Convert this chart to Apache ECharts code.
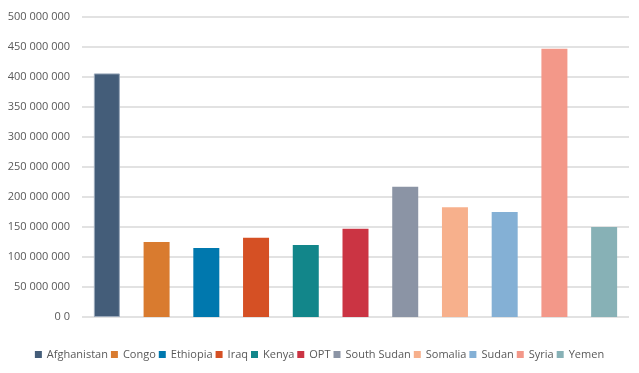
<!DOCTYPE html>
<html>
<head>
<meta charset="utf-8">
<script src="https://cdn.jsdelivr.net/npm/echarts@6/dist/echarts.min.js"></script>
<style>html,body{margin:0;padding:0;background:#fff}#c{width:639px;height:373px}</style>
</head>
<body>
<div id="c"></div>
<script>
var categories = ['Afghanistan','Congo','Ethiopia','Iraq','Kenya','OPT','South Sudan','Somalia','Sudan','Syria','Yemen'];
var values = [406000000,125000000,115000000,132000000,120000000,147000000,217000000,183000000,175000000,447000000,150000000];
var colors = ['#445D79','#D97B2F','#0078AE','#D55024','#12868A','#CB3443','#8B94A5','#F7B08C','#84B0D5','#F39889','#87B1B6'];
var yTicks = {min:0, max:500000000, interval:50000000};

function fmt(v){
  if (v === 0) return '0 0';
  return String(v).replace(/\B(?=(\d{3})+(?!\d))/g, ' ');
}

var series = categories.map(function(name, i){
  var d = categories.map(function(_, j){ return j === i ? values[i] : null; });
  return {
    name: name,
    type: 'bar',
    stack: 'all',
    barWidth: 26,
    data: d,
    itemStyle: i === 0 ? {color: colors[i], borderColor: '#9aa8ba', borderWidth: 1} : {color: colors[i]}
  };
});

var chart = echarts.init(document.getElementById('c'), null, {renderer:'canvas'});
chart.setOption({
  animation: false,
  textStyle: {fontFamily: 'Open Sans'},
  grid: {left: 82, right: 10, top: 17, bottom: 56, containLabel: false},
  legend: {
    bottom: 8,
    left: 'center',
    itemWidth: 7,
    itemHeight: 7,
    itemGap: 3,
    icon: 'rect',
    textStyle: {color: '#595959', fontSize: 11, fontFamily: 'Open Sans'},
    data: categories.map(function(n, i){ return {name: n, itemStyle: {color: colors[i], borderWidth: 0}}; })
  },
  xAxis: {
    type: 'category',
    data: categories,
    axisLine: {show: false},
    axisTick: {show: false},
    axisLabel: {show: false}
  },
  yAxis: {
    type: 'value',
    min: yTicks.min,
    max: yTicks.max,
    interval: yTicks.interval,
    axisLine: {show: false},
    axisTick: {show: false},
    splitLine: {lineStyle: {color: '#d9d9d9', width: 1.5}},
    axisLabel: {color: '#595959', fontSize: 11, fontFamily: 'Open Sans', margin: 12, formatter: fmt}
  },
  series: series
});
</script>
</body>
</html>
